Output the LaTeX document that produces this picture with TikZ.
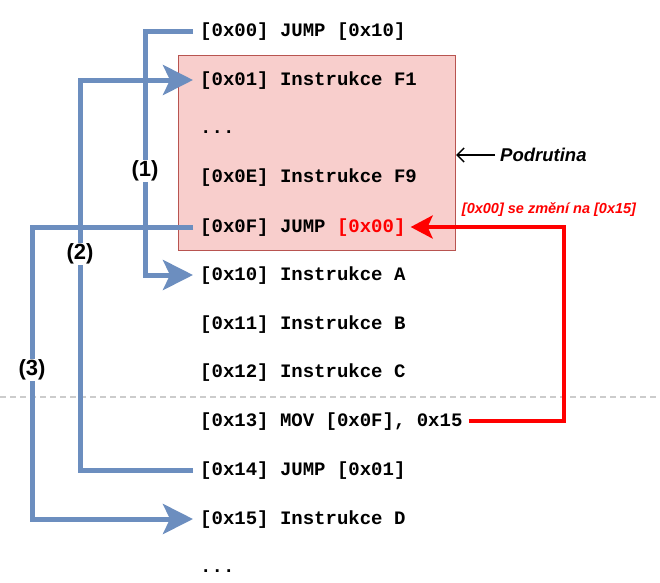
\documentclass[tikz,border=0pt]{standalone}
\usepackage{fontspec}
\usetikzlibrary{arrows.meta}
\newfontfamily\codefont{Liberation Mono}
\newfontfamily\lblfont{Liberation Sans}
\definecolor{jmpblue}{HTML}{6C8EBF}
\definecolor{subfill}{HTML}{F8CECC}
\definecolor{subdraw}{HTML}{B85450}
\definecolor{gridgray}{HTML}{CCCCCC}
\frenchspacing
\tikzset{
  code/.style={anchor=base west, inner sep=0pt, text height=13pt, text depth=2pt,
    font=\codefont\bfseries\fontsize{19}{22}\selectfont},
  jump/.style={draw=jmpblue, line width=5pt, -{Stealth[length=30pt,width=30pt,inset=7pt]}},
  num/.style={fill=white, inner sep=1pt, font=\lblfont\bfseries\fontsize{22}{26}\selectfont},
  change/.style={draw=red, line width=4pt, -{Stealth[length=22pt,width=23pt,inset=5pt]}},
}
\begin{document}
\begin{tikzpicture}[x=1pt,y=-1pt]
\useasboundingbox (0,0) rectangle (660,582);
% separator
\draw[gridgray, line width=1.3pt, dash pattern=on 6pt off 4pt] (0,397) -- (660,397);
% subroutine box
\node[draw=subdraw, fill=subfill, line width=1pt, minimum width=277pt, minimum height=195pt, inner sep=0pt, anchor=north west] (sub) at (178,55) {};
% code rows
\node[code] (n0) at (200,36.5) {[0x00] JUMP [0x10]};
\node[code] (n1) at (200,85.5) {[0x01] Instrukce F1};
\node[code] (n2) at (200,133.5) {...};
\node[code] (n3) at (200,182.5) {[0x0E] Instrukce F9};
\node[code] (n4) at (200,232.5) {[0x0F] JUMP \textcolor{red}{[0x00]}};
\node[code] (n5) at (200,280.5) {[0x10] Instrukce A};
\node[code] (n6) at (200,329.5) {[0x11] Instrukce B};
\node[code] (n7) at (200,377.5) {[0x12] Instrukce C};
\node[code] (n8) at (200,426.5) {[0x13] MOV [0x0F], 0x15};
\node[code] (n9) at (200,475.5) {[0x14] JUMP [0x01]};
\node[code] (n10) at (200,524.5) {[0x15] Instrukce D};
\node[code] (n11) at (200,572.5) {...};
% jumps
\draw[jump] ([xshift=-7pt]n0.west) -- ++(-48,0) |- ([xshift=-7pt]n5.west);
\draw[jump] ([xshift=-7pt]n9.west) -- ++(-113,0) |- ([xshift=-7pt]n1.west);
\draw[jump] ([xshift=-7pt]n4.west) -- ++(-161,0) |- ([xshift=-7pt]n10.west);
\node[num] (l1) at (145,171) {(1)};
\node[num] (l2) at (80,254) {(2)};
\node[num] (l3) at (32,370) {(3)};
% self-modification
\draw[change] ([xshift=6pt]n8.east) -- ++(95,0) |- ([xshift=5pt]n4.east);
\node[text=red, inner sep=0pt, font=\lblfont\bfseries\itshape\fontsize{14.5}{17}\selectfont] (chg) at (549,210) {[0x00] se změní na [0x15]};
% subroutine label
\node[anchor=west, inner sep=0pt, font=\lblfont\bfseries\itshape\fontsize{18.5}{22}\selectfont] (podr) at (500,155) {Podrutina};
\draw[line width=1.5pt, -{Straight Barb[length=7pt,width=14pt]}] ([xshift=-5pt]podr.west) -- (sub.east |- podr.west);
\end{tikzpicture}
\end{document}
